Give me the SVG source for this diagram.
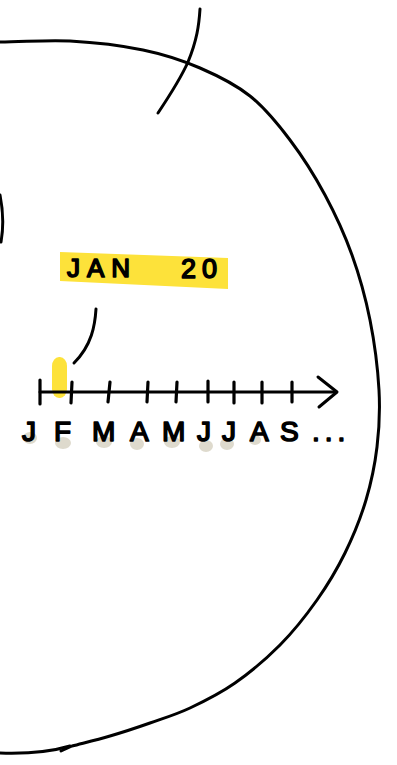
<svg xmlns="http://www.w3.org/2000/svg" width="397" height="765" viewBox="0 0 397 765">
<style>
.ln{fill:none;stroke:#000;stroke-width:3;stroke-linecap:round;stroke-linejoin:round}
.tk{fill:none;stroke:#000;stroke-width:3.2;stroke-linecap:round}
.lbl{font-family:"Liberation Sans",Arial,sans-serif;font-weight:normal;fill:#000;stroke:#000;stroke-width:1.6;stroke-linejoin:round}
.sh{fill:#dedacd}
</style>
<rect width="397" height="765" fill="#fff"/>
<g id="circle">
<path class="ln" d="M0,42 C23,42 46.2,39.7 70,41 C93.8,42.3 121.3,45.5 143,50 C164.7,54.5 182.2,60.3 200,68 C217.8,75.7 235,84 250,96 C265,108 277.5,123.5 290,140 C302.5,156.5 314.7,175.8 325,195 C335.3,214.2 344.5,234.2 352,255 C359.5,275.8 365.5,297.5 370,320 C374.5,342.5 377.8,368.8 379,390 C380.2,411.2 379.2,428.7 377,447 C374.8,465.3 371.3,482.3 366,500 C360.7,517.7 353.2,536.3 345,553 C336.8,569.7 327.8,584.7 317,600 C306.2,615.3 293.7,631.2 280,645 C266.3,658.8 250,672.5 235,683 C220,693.5 204.2,701.3 190,708 C175.8,714.7 163.3,718.3 150,723 C136.7,727.7 123,732.2 110,736 C97,739.8 84.7,742.7 72,746 L61,751"/>
<path class="ln" d="M70,746 C50,752 30,754 0,753"/>
<path class="ln" d="M0,195 C3,210 4,225 1,242" stroke-width="3.5"/>
</g>
<g id="cross-line">
<path class="ln" d="M200,9 C199,25 197,40 188,62 C180,80 170,95 158,113"/>
</g>
<g id="label-jan20">
<polygon points="60,252 228,258 228,289 60,281" fill="#fde23a"/>
<text class="lbl" x="67" y="277" font-size="26" letter-spacing="7">JAN</text>
<text class="lbl" x="181" y="278" font-size="27" letter-spacing="6">20</text>
</g>
<g id="connectors">
<path class="ln" d="M96,309 C95,325 92,345 74,363"/>
</g>
<g id="timeline">
<rect x="52" y="357" width="15" height="41" rx="7" ry="9" fill="#fde23a"/>
<path class="ln" d="M40,392 L336,392"/>
<path class="ln" d="M318,377 L337,392 L319,407"/>
<path class="tk" d="M40,380 L40,404 M72,382 L71,403 M110,382 L108,402 M148,382 L147,402 M177,382 L176,402 M208,381 L208,402 M234,382 L234,403 M262,382 L262,403 M292,382 L292,402"/>
</g>
<g id="months">
<ellipse class="sh" cx="30" cy="438" rx="7" ry="6"/>
<ellipse class="sh" cx="63" cy="443" rx="8" ry="6"/>
<ellipse class="sh" cx="104" cy="442" rx="8" ry="6"/>
<ellipse class="sh" cx="137" cy="444" rx="7" ry="6"/>
<ellipse class="sh" cx="172" cy="442" rx="8" ry="6"/>
<ellipse class="sh" cx="206" cy="446" rx="7" ry="6"/>
<ellipse class="sh" cx="227" cy="444" rx="7" ry="6"/>
<ellipse class="sh" cx="255" cy="440" rx="6" ry="5"/>
<text class="lbl" font-size="28" y="441"><tspan x="22">J</tspan><tspan x="54">F</tspan><tspan x="92">M</tspan><tspan x="130">A</tspan><tspan x="162">M</tspan><tspan x="197">J</tspan><tspan x="222">J</tspan><tspan x="250">A</tspan><tspan x="280">S</tspan><tspan x="312" letter-spacing="5">...</tspan></text>
</g>
</svg>
